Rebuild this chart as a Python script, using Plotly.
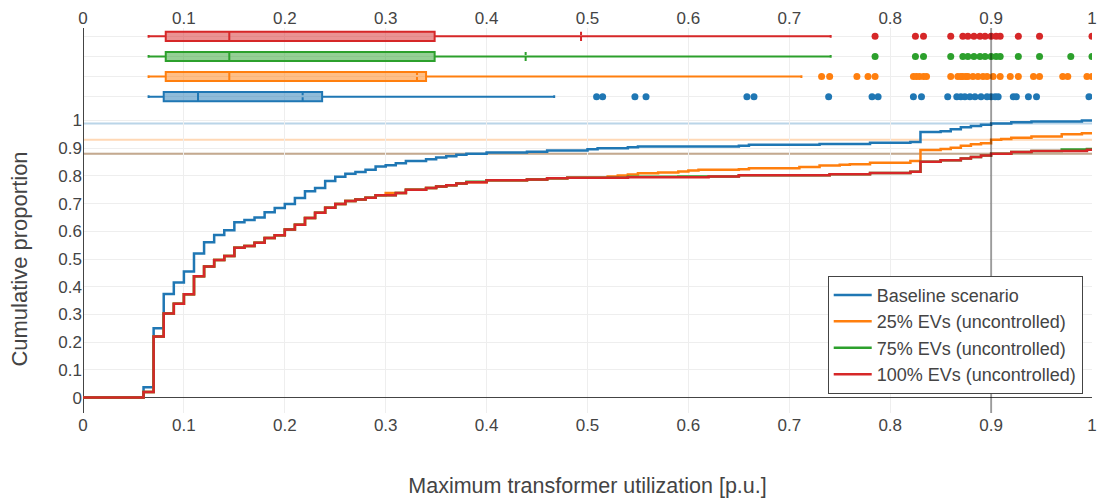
import numpy as np
import plotly.graph_objects as go

# ---------------- data ----------------
names = ["Baseline scenario", "25% EVs (uncontrolled)",
         "75% EVs (uncontrolled)", "100% EVs (uncontrolled)"]
colors = ["#1f77b4", "#ff7f0e", "#2ca02c", "#d62728"]
fills = ["rgba(31,119,180,0.5)", "rgba(255,127,14,0.5)",
         "rgba(44,160,44,0.5)", "rgba(214,39,40,0.5)"]

# ECDF step points (utilization, cumulative proportion)
base_x = [0, 0.06, 0.07, 0.08, 0.09, 0.10, 0.11, 0.12, 0.13, 0.14, 0.15, 0.16, 0.17,
          0.18, 0.19, 0.20, 0.21, 0.22, 0.23, 0.24, 0.25, 0.26, 0.27, 0.28, 0.29, 0.30,
          0.31, 0.32, 0.34, 0.35, 0.36, 0.37, 0.38, 0.40, 0.44, 0.46, 0.50, 0.51, 0.54,
          0.55, 0.65, 0.66, 0.73, 0.78, 0.82, 0.83, 0.85, 0.86, 0.87, 0.88, 0.89, 0.90,
          0.92, 0.94, 0.99, 1.00]
base_y = [0, 0.037, 0.25, 0.374, 0.415, 0.455, 0.52, 0.56, 0.587, 0.604, 0.633, 0.641, 0.65,
          0.669, 0.684, 0.698, 0.72, 0.744, 0.756, 0.781, 0.797, 0.808, 0.814, 0.822, 0.834,
          0.838, 0.845, 0.854, 0.86, 0.866, 0.871, 0.876, 0.88, 0.884, 0.887, 0.891, 0.896,
          0.90, 0.903, 0.906, 0.909, 0.912, 0.915, 0.919, 0.922, 0.958, 0.961, 0.968, 0.975,
          0.98, 0.984, 0.989, 0.993, 0.996, 1.0, 1.0]

ev25_x = [0, 0.06, 0.07, 0.08, 0.09, 0.10, 0.11, 0.12, 0.13, 0.14, 0.15, 0.16, 0.17,
          0.18, 0.19, 0.20, 0.21, 0.22, 0.23, 0.24, 0.25, 0.26, 0.27, 0.28, 0.29, 0.30,
          0.32, 0.34, 0.35, 0.36, 0.37, 0.38, 0.40, 0.44, 0.46, 0.48, 0.52, 0.53, 0.54,
          0.55, 0.57, 0.59, 0.60, 0.61, 0.65, 0.66, 0.71, 0.73, 0.75, 0.76, 0.78, 0.82,
          0.83, 0.85, 0.86, 0.87, 0.88, 0.89, 0.90, 0.91, 0.92, 0.94, 0.97, 0.99, 1.05]
ev25_y = [0, 0.02, 0.22, 0.303, 0.339, 0.373, 0.438, 0.473, 0.496, 0.511, 0.541, 0.547, 0.559,
          0.576, 0.586, 0.606, 0.624, 0.648, 0.667, 0.685, 0.698, 0.709, 0.715, 0.721, 0.73,
          0.738, 0.75, 0.756, 0.762, 0.766, 0.772, 0.777, 0.784, 0.787, 0.791, 0.793, 0.798,
          0.801, 0.805, 0.809, 0.812, 0.816, 0.819, 0.822, 0.824, 0.827, 0.832, 0.837, 0.84,
          0.842, 0.847, 0.854, 0.893, 0.897, 0.901, 0.909, 0.914, 0.918, 0.93, 0.933, 0.937,
          0.942, 0.95, 0.954, 0.954]

ev75_x = [0, 0.06, 0.07, 0.08, 0.09, 0.10, 0.11, 0.12, 0.13, 0.14, 0.15, 0.16, 0.17,
          0.18, 0.19, 0.20, 0.21, 0.22, 0.23, 0.24, 0.25, 0.26, 0.27, 0.28, 0.29, 0.31,
          0.32, 0.34, 0.35, 0.36, 0.37, 0.38, 0.40, 0.44, 0.46, 0.48, 0.54, 0.59, 0.65,
          0.74, 0.78, 0.82, 0.83, 0.85, 0.87, 0.88, 0.89, 0.90, 0.92, 0.94, 0.97, 0.995, 1.05]
ev75_y = [0, 0.02, 0.22, 0.303, 0.339, 0.373, 0.438, 0.473, 0.496, 0.511, 0.541, 0.547, 0.559,
          0.576, 0.586, 0.606, 0.624, 0.648, 0.667, 0.685, 0.698, 0.709, 0.715, 0.721, 0.73,
          0.738, 0.75, 0.756, 0.762, 0.766, 0.772, 0.779, 0.784, 0.787, 0.791, 0.793, 0.797,
          0.798, 0.802, 0.806, 0.81, 0.815, 0.851, 0.856, 0.863, 0.868, 0.873, 0.88, 0.886,
          0.89, 0.895, 0.897, 0.897]

ev100_x = [0, 0.06, 0.07, 0.08, 0.09, 0.10, 0.11, 0.12, 0.13, 0.14, 0.15, 0.16, 0.17,
           0.18, 0.19, 0.20, 0.21, 0.22, 0.23, 0.24, 0.25, 0.26, 0.27, 0.28, 0.29, 0.31,
           0.32, 0.34, 0.35, 0.36, 0.37, 0.38, 0.40, 0.44, 0.46, 0.48, 0.54, 0.62, 0.65,
           0.74, 0.78, 0.82, 0.83, 0.85, 0.87, 0.88, 0.89, 0.90, 0.92, 0.94, 0.995, 1.05]
ev100_y = [0, 0.02, 0.22, 0.303, 0.339, 0.373, 0.438, 0.473, 0.496, 0.511, 0.541, 0.547, 0.559,
           0.576, 0.586, 0.606, 0.624, 0.648, 0.667, 0.685, 0.698, 0.709, 0.715, 0.721, 0.73,
           0.738, 0.75, 0.756, 0.762, 0.766, 0.772, 0.777, 0.784, 0.787, 0.791, 0.793, 0.795,
           0.798, 0.802, 0.806, 0.81, 0.815, 0.851, 0.856, 0.863, 0.868, 0.873, 0.88, 0.886,
           0.89, 0.894, 0.894]

# box statistics (baseline, 25%, 75%, 100%)
box_lowerfence = [0.065, 0.065, 0.065, 0.065]
box_q1 = [0.080, 0.082, 0.082, 0.082]
box_median = [0.114, 0.145, 0.145, 0.145]
box_q3 = [0.237, 0.340, 0.3485, 0.3485]
box_upperfence = [0.467, 0.712, 0.741, 0.741]
box_mean = [0.2177, 0.331, 0.4387, 0.4936]

out_base = [0.509, 0.515, 0.547, 0.558, 0.658, 0.665, 0.739, 0.782, 0.788, 0.823, 0.831,
            0.857, 0.866, 0.870, 0.874, 0.879, 0.884, 0.890, 0.896, 0.900, 0.904, 0.907,
            0.922, 0.925, 0.937, 0.945, 0.997]
out_ev25 = [0.732, 0.740, 0.767, 0.778, 0.785, 0.823, 0.826, 0.829, 0.833, 0.836, 0.860,
            0.867, 0.870, 0.872, 0.875, 0.877, 0.882, 0.887, 0.892, 0.896, 0.902, 0.909,
            0.919, 0.927, 0.942, 0.948, 0.971, 0.976, 0.995, 1.0]
out_ev75 = [0.785, 0.825, 0.833, 0.860, 0.872, 0.877, 0.883, 0.889, 0.894, 0.900, 0.905,
            0.909, 0.927, 0.948, 0.979, 1.0]
out_ev100 = [0.785, 0.825, 0.833, 0.860, 0.872, 0.877, 0.883, 0.889, 0.894, 0.900, 0.905,
             0.909, 0.927, 0.948, 1.0]

threshold = 0.9

xs = [base_x, ev25_x, ev75_x, ev100_x]
ys = [base_y, ev25_y, ev75_y, ev100_y]
outs = [out_base, out_ev25, out_ev75, out_ev100]

FONT = "Arial, Liberation Sans, sans-serif"
fig = go.Figure()

# marginal boxes
for i in range(4):
    fig.add_trace(go.Box(
        y=[names[i]], q1=[box_q1[i]], median=[box_median[i]], q3=[box_q3[i]],
        lowerfence=[box_lowerfence[i]], upperfence=[box_upperfence[i]], mean=[box_mean[i]],
        boxmean=True, orientation="h", boxpoints=False,
        line=dict(color=colors[i], width=2), fillcolor=fills[i],
        width=0.45, whiskerwidth=0.3,
        xaxis="x2", yaxis="y2", showlegend=False, name=names[i]))
for i in range(4):
    fig.add_trace(go.Scatter(
        x=outs[i], y=[names[i]] * len(outs[i]), mode="markers",
        marker=dict(color=colors[i], size=7),
        xaxis="x2", yaxis="y2", showlegend=False, name=names[i]))

# ECDF lines
for i in range(4):
    fig.add_trace(go.Scatter(
        x=xs[i], y=ys[i], mode="lines", line=dict(color=colors[i], width=2.5, shape="hv"),
        name=names[i], xaxis="x", yaxis="y"))

# horizontal lines at the ECDF value at the threshold
for i in range(4):
    xa = np.array(xs[i]); ya = np.array(ys[i])
    val = ya[xa <= threshold + 1e-9][-1]
    fig.add_shape(type="line", xref="x", yref="y", x0=0, x1=1, y0=val, y1=val,
                  line=dict(color=colors[i], width=2), opacity=0.3, layer="below")

fig.add_shape(type="line", xref="x", yref="paper", x0=threshold, x1=threshold, y0=0, y1=1,
              line=dict(color="rgba(0,0,0,0.35)", width=2), layer="above")

fig.update_layout(
    template="none",
    width=1105, height=502,
    margin=dict(l=83, r=13, t=28, b=88.7, pad=0),
    paper_bgcolor="white", plot_bgcolor="white",
    font=dict(family=FONT, size=17, color="#444"),
    showlegend=True,
    legend=dict(x=0.9908, xanchor="right", y=0.05, yanchor="bottom",
                bgcolor="white", bordercolor="#444", borderwidth=1,
                itemwidth=38, tracegroupgap=0,
                font=dict(size=18)),
    xaxis=dict(domain=[0, 1], anchor="y", range=[0, 1], dtick=0.1,
               showgrid=True, gridcolor="#eee", zeroline=True, zerolinecolor="#444",
               automargin=False,
               title=dict(text="Maximum transformer utilization [p.u.]",
                          font=dict(size=21.5), standoff=43)),
    yaxis=dict(domain=[0, 0.8], anchor="x", range=[-0.0556, 1.0556], dtick=0.1,
               showgrid=True, gridcolor="#eee", zeroline=True, zerolinecolor="#444",
               automargin=False,
               title=dict(text="Cumulative proportion", font=dict(size=22), standoff=24)),
    xaxis2=dict(domain=[0, 1], anchor="y2", range=[0, 1], dtick=0.1, side="top",
                showticklabels=True, showgrid=True, gridcolor="#eee",
                zeroline=True, zerolinecolor="#444", matches="x", automargin=False),
    yaxis2=dict(domain=[0.8, 1], anchor="x2", type="category", showticklabels=False,
                showgrid=True, gridcolor="#eee", automargin=False),
)

fig.write_html("out.html")
